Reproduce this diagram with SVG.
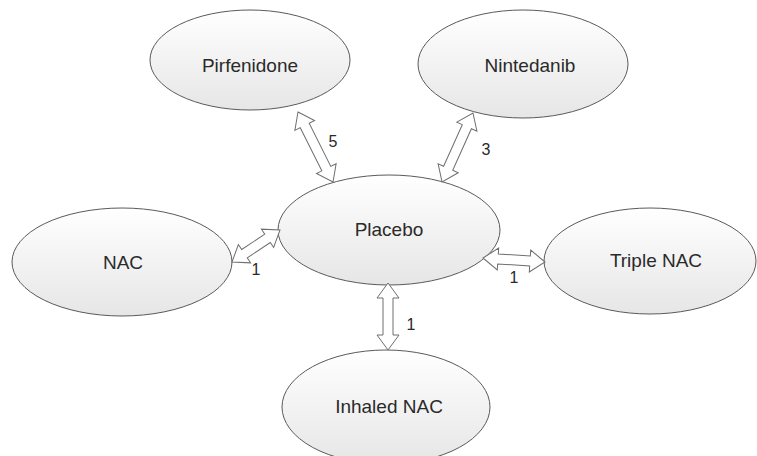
<svg xmlns="http://www.w3.org/2000/svg" width="757" height="456" viewBox="0 0 757 456">
<defs>
<linearGradient id="g" x1="0" y1="0" x2="0" y2="1">
<stop offset="0" stop-color="#ffffff"/>
<stop offset="1" stop-color="#e6e6e6"/>
</linearGradient>
</defs>
<style>
.node ellipse{fill:url(#g);stroke:#5a5a5a;stroke-width:1}
.node text{font-family:"Liberation Sans",Arial,sans-serif;font-size:19px;fill:#2a2a2a;text-anchor:middle}
.arr path{fill:#ffffff;stroke:#6e6e6e;stroke-width:1;stroke-linejoin:miter}
.lbl{font-family:"Liberation Sans",Arial,sans-serif;font-size:16px;fill:#2a2a2a;text-anchor:middle}
</style>
<rect width="757" height="456" fill="#ffffff"/>
<g id="pirfenidone" class="node"><ellipse cx="250" cy="60" rx="100" ry="50"/><text x="250" y="72">Pirfenidone</text></g>
<g id="nintedanib" class="node"><ellipse cx="523" cy="64" rx="105" ry="54"/><text x="530" y="72">Nintedanib</text></g>
<g id="placebo" class="node"><ellipse cx="389" cy="230" rx="111" ry="55"/><text x="389" y="236">Placebo</text></g>
<g id="nac" class="node"><ellipse cx="122" cy="262" rx="110" ry="54"/><text x="123" y="269">NAC</text></g>
<g id="triple-nac" class="node"><ellipse cx="650" cy="261" rx="106" ry="53"/><text x="656" y="267">Triple NAC</text></g>
<g id="inhaled-nac" class="node"><ellipse cx="386" cy="407" rx="104" ry="57"/><text x="389" y="413">Inhaled NAC</text></g>
<g id="connectors" class="arr">
<path transform="translate(298,112) rotate(63.43)" d="M0,0 L15,-11 L15,-5 L63.3,-5 L63.3,-11 L78.3,0 L63.3,11 L63.3,5 L15,5 L15,11 Z"/>
<path transform="translate(473,113) rotate(114.19)" d="M0,0 L15,-11 L15,-5 L60.6,-5 L60.6,-11 L75.6,0 L60.6,11 L60.6,5 L15,5 L15,11 Z"/>
<path transform="translate(232,262) rotate(-33.69)" d="M0,0 L15,-11 L15,-5 L42.7,-5 L42.7,-11 L57.7,0 L42.7,11 L42.7,5 L15,5 L15,11 Z"/>
<path transform="translate(483,258) rotate(3.69)" d="M0,0 L15,-11 L15,-5 L47.1,-5 L47.1,-11 L62.1,0 L47.1,11 L47.1,5 L15,5 L15,11 Z"/>
<path transform="translate(388,283) rotate(90)" d="M0,0 L15,-11 L15,-5 L52,-5 L52,-11 L67,0 L52,11 L52,5 L15,5 L15,11 Z"/>
</g>
<g id="labels">
<text class="lbl" x="333" y="147">5</text>
<text class="lbl" x="486" y="155">3</text>
<text class="lbl" x="256" y="275">1</text>
<text class="lbl" x="514" y="283">1</text>
<text class="lbl" x="411" y="330">1</text>
</g>
</svg>
